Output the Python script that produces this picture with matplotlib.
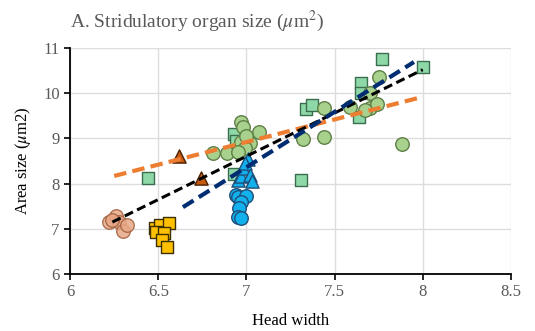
import matplotlib
matplotlib.use('Agg')
import matplotlib.pyplot as plt

plt.rcParams['font.family'] = ['Liberation Serif', 'DejaVu Serif']
plt.rcParams['mathtext.fontset'] = 'stix'

# salmon circles
sal_x = [6.22, 6.26, 6.28, 6.30, 6.32, 6.24]
sal_y = [7.15, 7.28, 7.15, 6.95, 7.08, 7.20]
# yellow squares
yel_x = [6.48, 6.51, 6.56, 6.49, 6.53, 6.52, 6.55]
yel_y = [7.02, 7.08, 7.13, 6.93, 6.91, 6.75, 6.60]
# brown triangles
bro_x = [6.62, 6.74]
bro_y = [8.62, 8.12]
# blue circles
bc_x = [6.94, 6.955, 7.00, 6.97, 6.96, 6.95, 6.97]
bc_y = [7.75, 7.70, 7.73, 7.59, 7.46, 7.27, 7.24]
# blue triangles
bt_x = [6.95, 6.97, 6.98, 7.01, 7.02, 7.03, 6.99]
bt_y = [8.08, 8.18, 8.35, 8.55, 8.20, 8.05, 8.45]
# green squares
gs_x = [6.44, 6.93, 6.94, 6.93, 6.97, 7.31, 7.34, 7.37, 7.65, 7.65, 7.64, 7.77, 8.00]
gs_y = [8.12, 9.10, 8.95, 8.22, 8.85, 8.08, 9.65, 9.75, 10.23, 10.00, 9.47, 10.76, 10.57]
# green circles
gc_x = [6.97, 6.98, 7.07, 6.81, 6.89, 6.97, 7.02, 6.99, 7.44, 7.59, 7.32, 7.44,
        7.75, 7.70, 7.70, 7.74, 7.67, 7.88, 6.95, 7.00]
gc_y = [9.37, 9.25, 9.14, 8.67, 8.68, 8.92, 8.90, 8.79, 9.68, 9.70, 8.99, 9.03,
        10.36, 10.00, 9.67, 9.76, 9.62, 8.88, 8.70, 9.05]

# trend lines (end points)
orange_x = [6.25, 8.00]
orange_y = [8.17, 9.92]
black_x = [6.24, 8.00]
black_y = [7.15, 10.52]
navy_x = [6.64, 7.95]
navy_y = [7.48, 10.69]

fig = plt.figure(figsize=(5.35, 3.31), dpi=100)
ax = fig.add_axes([0.131, 0.172, 0.824, 0.683])

ax.grid(True, color='#DDDDDD', linewidth=1)
ax.set_axisbelow(True)

ax.scatter(gs_x, gs_y, s=80, marker='s', facecolor='#8ED8A8', edgecolor='#3B6E4E', linewidth=1, zorder=3)
ax.scatter(gc_x, gc_y, s=95, marker='o', facecolor='#A9D18E', edgecolor='#5E7F45', linewidth=1, zorder=3)
ax.scatter(sal_x, sal_y, s=95, marker='o', facecolor='#E8A887', edgecolor='#A0603E', linewidth=1, alpha=0.85, zorder=3)
ax.scatter(yel_x, yel_y, s=85, marker='s', facecolor='#FFC000', edgecolor='#3A3000', linewidth=1, zorder=3)
ax.scatter(bro_x, bro_y, s=90, marker='^', facecolor='#C55A11', edgecolor='#4A2000', linewidth=1, zorder=3)
ax.scatter(bc_x, bc_y, s=95, marker='o', facecolor='#12B0EC', edgecolor='#1F4E79', linewidth=1, zorder=3)
ax.scatter(bt_x, bt_y, s=90, marker='^', facecolor='#12B0EC', edgecolor='#1F4E79', linewidth=1, zorder=3)

ax.plot(orange_x, orange_y, color='#ED7D31', linewidth=3, dashes=(3, 1.5), zorder=4)
ax.plot(black_x, black_y, color='black', linewidth=2.2, dashes=(3, 1.5), zorder=4)
ax.plot(navy_x, navy_y, color='#002D72', linewidth=3, dashes=(3, 1.5), zorder=4)

ax.set_xlim(6, 8.5)
ax.set_ylim(6, 11)
ax.set_xticks([6, 6.5, 7, 7.5, 8, 8.5])
ax.set_xticklabels(['6', '6.5', '7', '7.5', '8', '8.5'])
ax.set_yticks([6, 7, 8, 9, 10, 11])

for s in ['top', 'right']:
    ax.spines[s].set_visible(False)
for s in ['left', 'bottom']:
    ax.spines[s].set_linewidth(1.3)
    ax.spines[s].set_color('black')
ax.tick_params(axis='both', direction='out', length=4, width=1.2, labelsize=12, labelcolor='#595959')

ax.set_xlabel('Head width', fontsize=12, labelpad=9)
ax.set_ylabel(r'Area size ($\mu$m2)', fontsize=12, labelpad=7)
fig.text(0.131, 0.935, r'A. Stridulatory organ size ($\mu$m$^2$)', fontsize=14, color='#595959', ha='left', va='center')

fig.savefig('out.png', dpi=100)
